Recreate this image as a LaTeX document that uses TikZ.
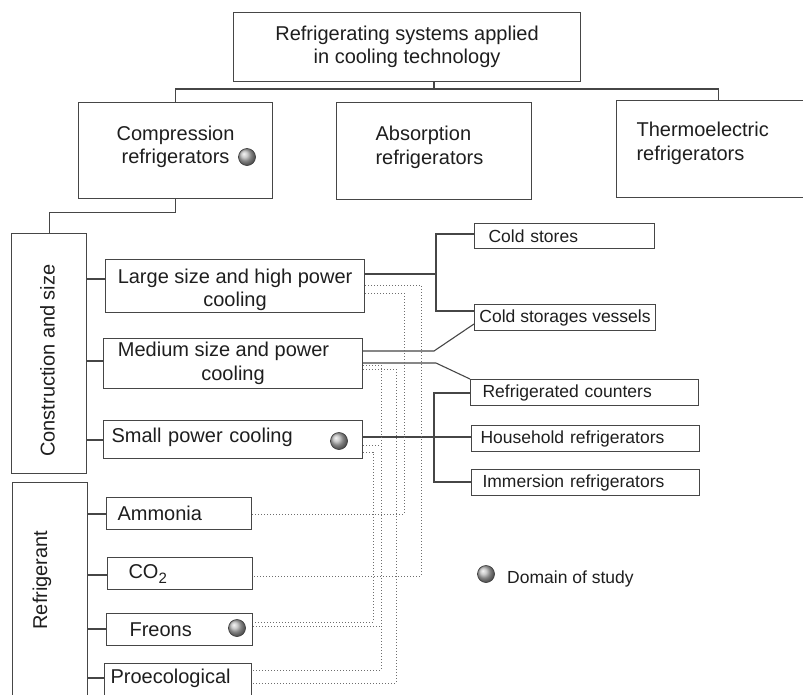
\documentclass[tikz,border=0pt]{standalone}
\usepackage{fontspec}
\setmainfont{Liberation Sans}
\usepackage{graphicx}
\definecolor{linec}{RGB}{70,70,70}
\definecolor{txtc}{RGB}{30,30,30}
\definecolor{dotc}{RGB}{110,110,110}
\begin{document}
\begin{tikzpicture}[x=1pt,y=-1pt,
 box/.style={draw=linec, line width=1.1pt, inner sep=0pt, anchor=north west, text=txtc, align=center},
 lbox/.style={box, align=left, inner xsep=#1},
 fbig/.style={font=\fontsize{20}{23.5}\selectfont},
 fsmall/.style={font=\fontsize{17.5}{20}\selectfont},
 conn/.style={draw=linec, line width=1.1pt},
 dots/.style={draw=dotc, line width=1pt, dash pattern=on 1pt off 2pt},
 ballmark/.style={circle, minimum size=17pt, inner sep=0pt, draw=black!75, line width=0.7pt, ball color=gray!55}]
\useasboundingbox (0,0) rectangle (803,694);
\clip (0,0) rectangle (803,694);

% top level
\node[box, fbig, minimum width=347pt, minimum height=69pt] (top) at (233,12) {Refrigerating systems applied\\in cooling technology};
\node[box, fbig, minimum width=194pt, minimum height=96pt, text depth=12pt] (comp) at (78,102) {Compression\\refrigerators};
\node[lbox=39pt, fbig, text width=117pt, minimum width=195pt, minimum height=97pt, text depth=35.5pt] (absorb) at (336,102) {Absorption\\refrigerators};
\node[lbox=20pt, fbig, text width=164pt, minimum width=204pt, minimum height=97pt, text depth=39.5pt] (thermo) at (616,100) {Thermoelectric\\refrigerators};

% construction and size
\node[box, fbig, minimum width=75pt, minimum height=240pt] (cons) at (11,233) {\rotatebox{90}{\raisebox{3.5pt}{Construction and size\hspace*{14pt}}}};
\node[box, fbig, minimum width=259pt, minimum height=53pt, text height=46pt] (large) at (105,259) {Large size and high power\\cooling};
\node[box, fbig, minimum width=259pt, minimum height=50pt] (medium) at (103,338) {Medium size and power\hspace*{19pt}\\cooling};
\node[lbox=8pt, fbig, text width=243pt, minimum width=259pt, minimum height=38pt, text depth=9pt] (smallp) at (103,420) {Small power cooling};

% refrigerant
\node[box, minimum width=75pt, minimum height=240pt] (refr) at (12,482) {};
\node[fbig, rotate=90, text=txtc] (refrlbl) at (42,580) {Refrigerant};
\node[lbox=11pt, fbig, text width=123pt, minimum width=145pt, minimum height=32pt] (ammonia) at (106,497) {Ammonia};
\node[lbox=21pt, fbig, text width=103pt, minimum width=145pt, minimum height=32pt] (co2) at (107,557) {CO\raisebox{-5pt}{\fontsize{15}{15}\selectfont 2}};
\node[lbox=23pt, fbig, text width=100pt, minimum width=146pt, minimum height=32pt] (freons) at (106,613) {Freons};
\node[lbox=6pt, fbig, text width=135pt, minimum width=147pt, minimum height=40pt, text height=17pt, text depth=18pt] (proeco) at (104,663) {Proecological};

% applications
\node[lbox=14pt, fsmall, text width=152pt, minimum width=180pt, minimum height=25pt] (stores) at (474,223) {Cold stores};
\node[box, fsmall, minimum width=181pt, minimum height=26pt] (vessels) at (474,304) {Cold storages vessels};
\node[lbox=12pt, fsmall, text width=204pt, minimum width=228pt, minimum height=26pt] (counters) at (470,379) {Refrigerated counters};
\node[lbox=9pt, fsmall, text width=210pt, minimum width=228pt, minimum height=26pt] (household) at (471,425) {Household refrigerators};
\node[lbox=11pt, fsmall, text width=206pt, minimum width=228pt, minimum height=26pt] (immersion) at (471,469) {Immersion refrigerators};

% domain of study marks
\node[ballmark] (b1) at (247,157) {};
\node[ballmark] (b2) at (339,441) {};
\node[ballmark] (b3) at (237,628) {};
\node[ballmark] (b4) at (486,574) {};
\node[fsmall, anchor=base west, text=txtc, inner sep=0pt] (legend) at (507,583) {Domain of study};

% tree connectors
\coordinate (bus) at (434,89);
\draw[conn] (top.south -| bus) -- (bus);
\draw[conn] (comp.north) |- (bus) -| (thermo.north);
\draw[conn] (comp.south) -- ++(0,13) -| (cons.north);
\draw[conn] (cons.east |- 0,279) -- (large.west |- 0,279);
\draw[conn] (cons.east |- 0,361) -- (medium.west |- 0,361);
\draw[conn] (cons.east |- 0,440) -- (smallp.west |- 0,440);
\draw[conn] (refr.east |- 0,514) -- (ammonia.west |- 0,514);
\draw[conn] (refr.east |- 0,575) -- (co2.west |- 0,575);
\draw[conn] (refr.east |- 0,629) -- (freons.west |- 0,629);
\draw[conn] (refr.east |- 0,678) -- (proeco.west |- 0,678);

% applications connectors
\draw[conn] (large.east |- 0,274) -- (436,274);
\draw[conn] (stores.west |- 0,234) -| (436,311) -- (vessels.west |- 0,311);
\draw[conn] (medium.east |- 0,351) -- (434,351) -- (vessels.west |- 0,324);
\draw[conn] (medium.east |- 0,363) -- (436,363) -- (counters.north west);
\draw[conn] (smallp.east |- 0,437) -- (household.west |- 0,437);
\draw[conn] (counters.west |- 0,393) -| (434,482) -- (immersion.west |- 0,482);

% refrigerant links
\draw[dots] (large.east |- 0,285) -| (421,576) -- (co2.east |- 0,576);
\draw[dots] (large.east |- 0,293) -| (404,514) -- (ammonia.east |- 0,514);
\draw[dots] (medium.east |- 0,365) -| (381,670) -- (proeco.east |- 0,670);
\draw[dots] (medium.east |- 0,369) -| (396,683) -- (proeco.east |- 0,683);
\draw[dots] (smallp.east |- 0,445) -- (381,445);
\draw[dots] (smallp.east |- 0,452) -| (373,622) -- (freons.east |- 0,622);
\draw[dots] (freons.east |- 0,626) -- (381,626);
\end{tikzpicture}
\end{document}
